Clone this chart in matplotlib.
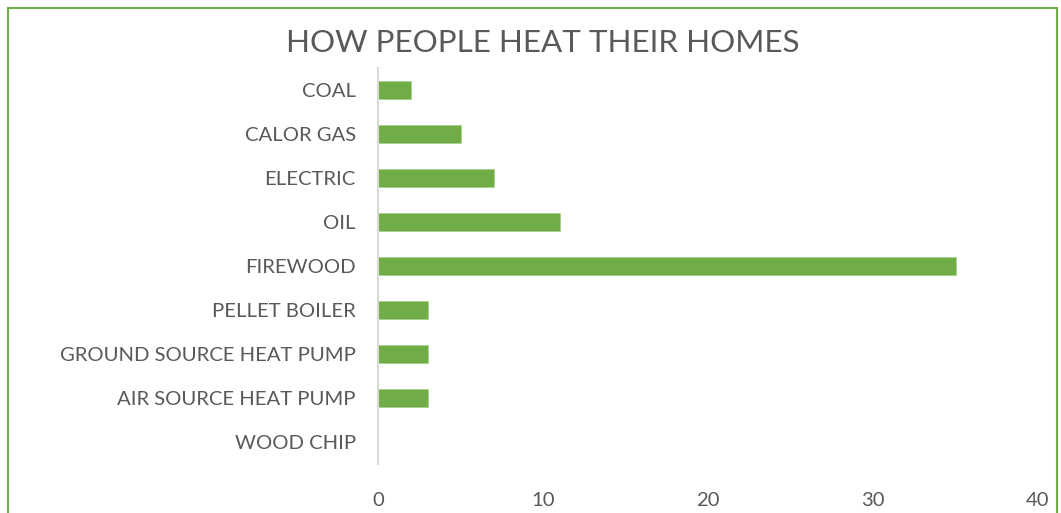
import numpy as np
import matplotlib.pyplot as plt
from matplotlib.patches import Rectangle

# data, top to bottom as in the chart
categories = ["COAL", "CALOR GAS", "ELECTRIC", "OIL", "FIREWOOD",
              "PELLET BOILER", "GROUND SOURCE HEAT PUMP",
              "AIR SOURCE HEAT PUMP", "WOOD CHIP"]
values = [2, 5, 7, 11, 35, 3, 3, 3, 0]
xticks = [0, 10, 20, 30, 40]

green = "#70AD47"
textcol = "#595959"

plt.rcParams['font.family'] = ['Lato', 'DejaVu Sans']

fig = plt.figure(figsize=(10.61, 5.13), dpi=100)
ax = fig.add_axes([378/1061, 1-464/513, (1038-378)/1061, (464-68)/513])

y = np.arange(len(categories))
ax.barh(y, values, height=0.39, color=green, edgecolor="#A9D18E", linewidth=0.6)
ax.set_ylim(len(categories)-0.5, -0.5)
ax.set_xlim(0, 40)
ax.set_yticks(y)
ax.set_yticklabels(categories, fontsize=14.6, color=textcol)
ax.set_xticks(xticks)
ax.set_xticklabels([str(t) for t in xticks], fontsize=14.6, color=textcol)
ax.tick_params(axis='both', length=0)
ax.tick_params(axis='y', pad=16)
ax.tick_params(axis='x', pad=20)
for s in ["top", "right", "bottom"]:
    ax.spines[s].set_visible(False)
ax.spines["left"].set_color("#D9D9D9")
ax.spines["left"].set_linewidth(1.5)

fig.text(543/1061, 1-43/513, "HOW PEOPLE HEAT THEIR HOMES", fontsize=22.6,
         color=textcol, ha="center", va="center")

# green frame of the chart area (bottom runs off the picture)
fig.patches.append(Rectangle((8/1061, -0.1), (1057-8)/1061, 1.1-8/513,
                             transform=fig.transFigure, fill=False,
                             edgecolor=green, linewidth=1.5))

fig.savefig("out.png", dpi=100)
